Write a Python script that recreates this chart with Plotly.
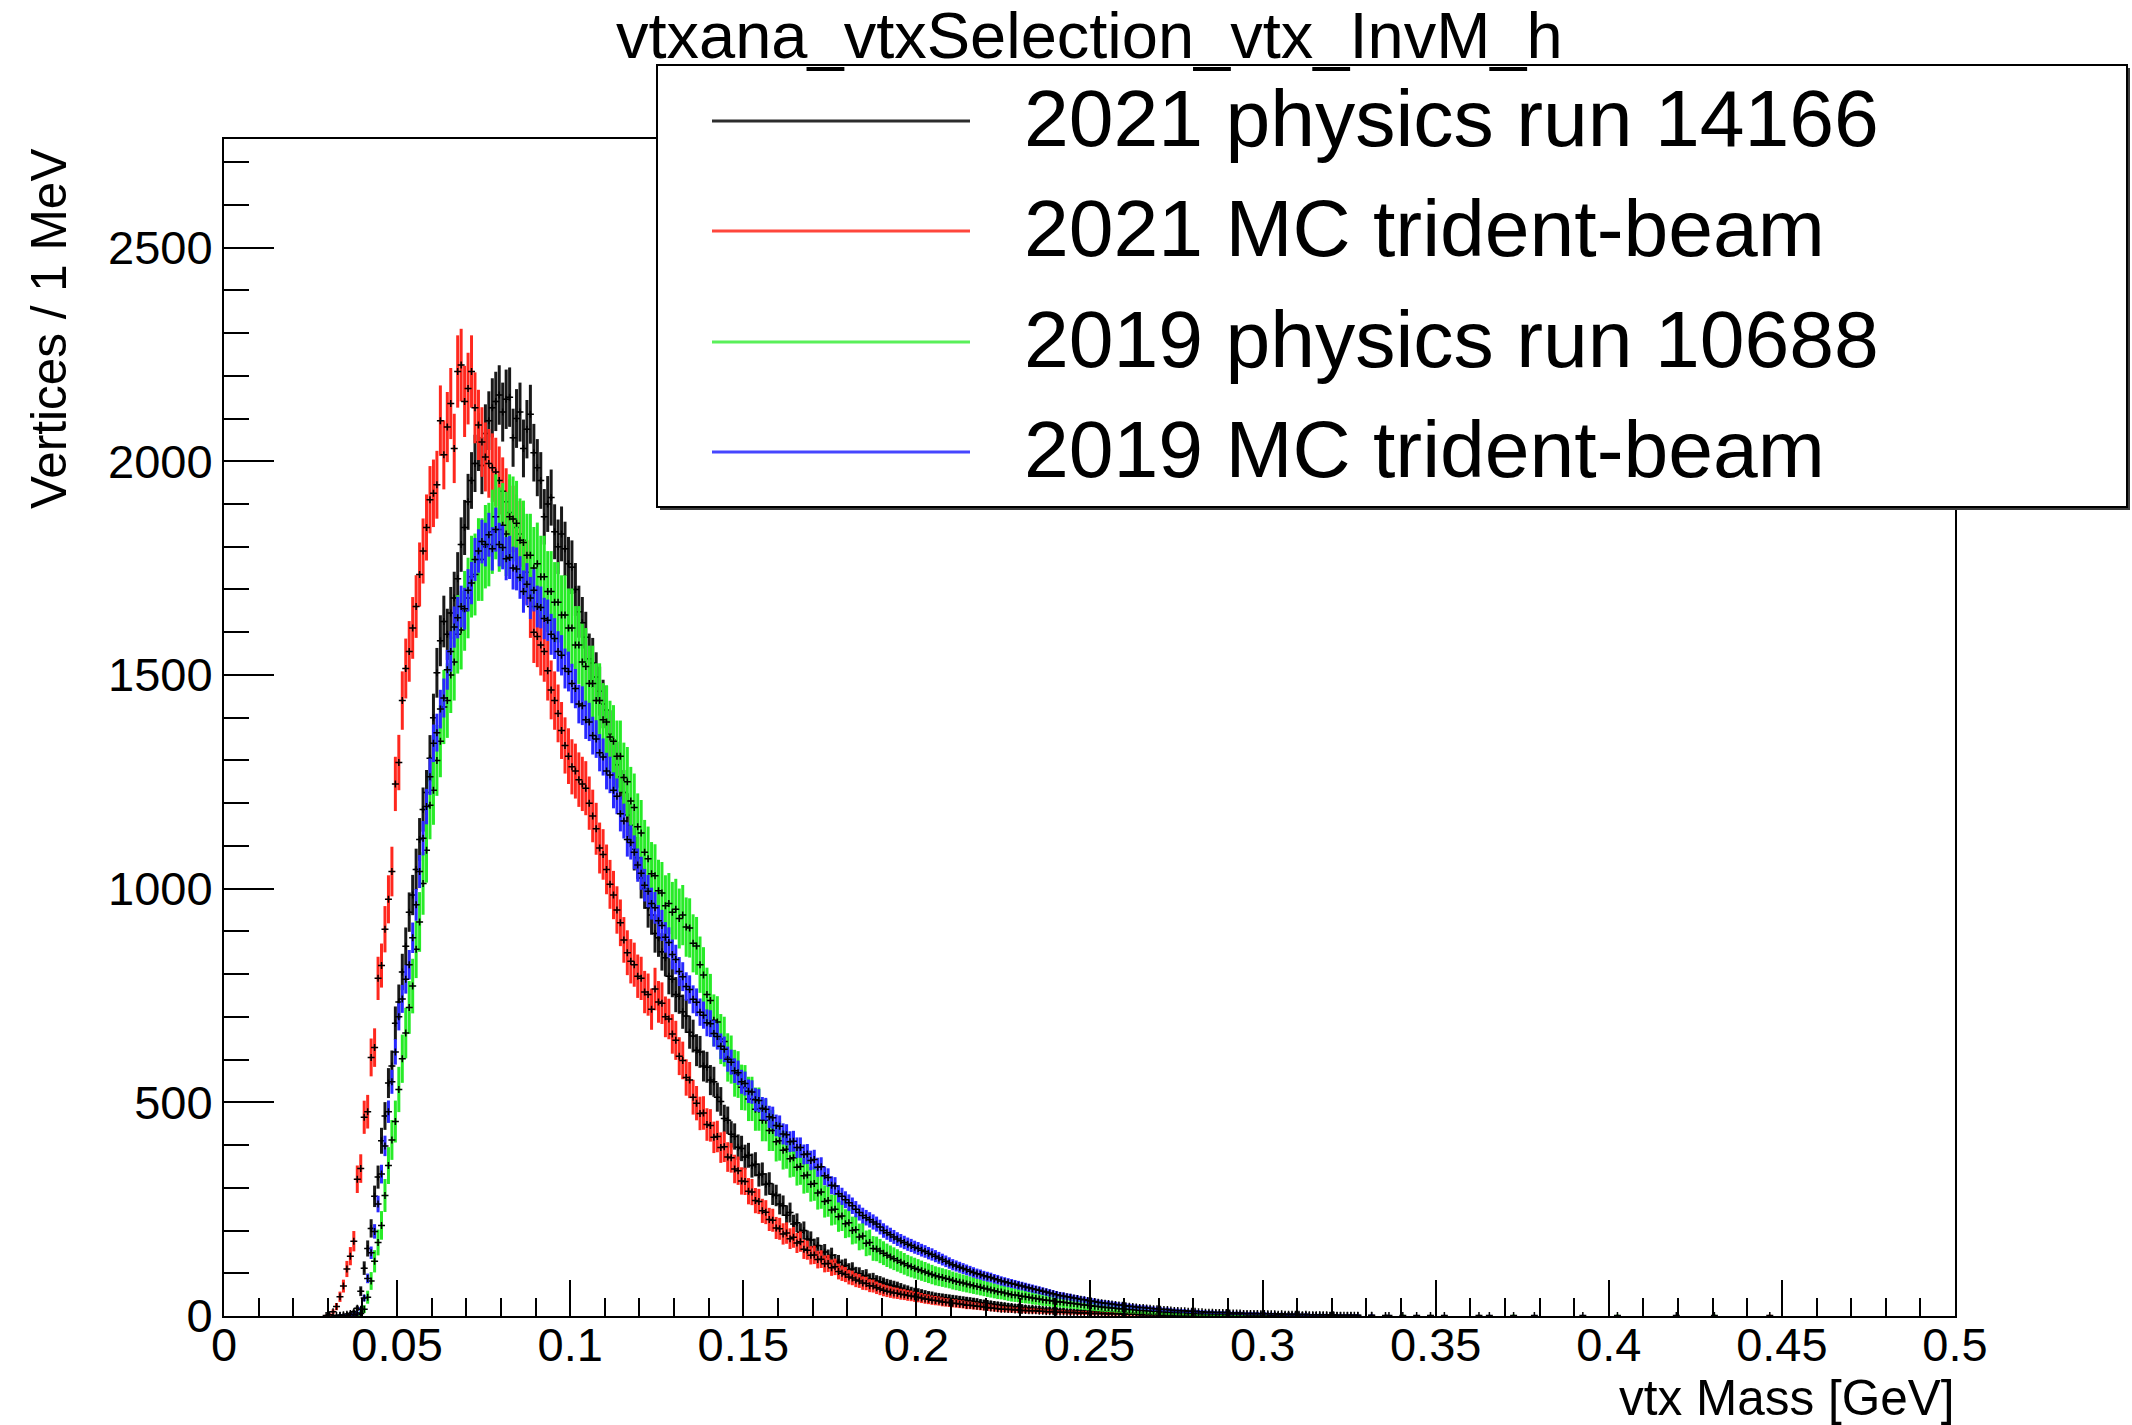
import math
import plotly.graph_objects as go

# ---------------------------------------------------------------------------
# Histogram contents: vertex invariant mass, 1 MeV bins on [0, 0.5] GeV.
# Each list starts at bin FIRST_BIN; bins outside the lists are empty except
# for the sparse far-tail entries listed separately.
# ---------------------------------------------------------------------------
BIN_WIDTH = 0.001
FIRST_BIN = 28

series_names = [
    "2021 physics run 14166",
    "2021 MC trident-beam",
    "2019 physics run 10688",
    "2019 MC trident-beam",
]

counts_data2021 = [
    0, 0, 0, 1, 1, 2, 3, 4, 6, 10,
    18, 58, 112, 158, 205, 280, 325, 410, 468, 545,
    585, 685, 735, 805, 865, 945, 985, 1045, 1115, 1185,
    1225, 1305, 1400, 1505, 1580, 1625, 1595, 1645, 1680, 1725,
    1805, 1845, 1905, 1955, 1995, 2045, 1990, 2065, 2095, 2125,
    2140, 2155, 2115, 2145, 2150, 2055, 2100, 2115, 2030, 2075,
    2110, 2020, 1985, 1955, 1870, 1900, 1915, 1835, 1800, 1830,
    1795, 1760, 1752, 1700, 1648, 1622, 1588, 1538, 1528, 1495,
    1462, 1432, 1418, 1362, 1348, 1290, 1262, 1225, 1172, 1148,
    1092, 1072, 1025, 1000, 955, 938, 895, 885, 852, 838,
    795, 788, 752, 748, 712, 702, 664, 655, 622, 618,
    585, 582, 552, 548, 512, 502, 462, 458, 425, 420,
    395, 392, 372, 376, 352, 355, 330, 332, 308, 310,
    285, 282, 262, 258, 236, 242, 215, 218, 196, 200,
    180, 178, 162, 165, 148, 150, 138, 142, 128, 126,
    116, 118, 108, 110, 100, 99, 93, 95, 86, 87,
    82, 80, 77, 74, 72, 70, 68, 65, 62, 60,
    57, 55, 54, 52, 50, 48, 47, 45, 44, 43,
    42, 41, 40, 39, 38, 37, 36, 35, 34, 33,
    31, 30, 29, 28, 27, 26, 25, 24, 23, 22,
    21, 21, 20, 19, 18, 18, 17, 17, 16, 15,
    15, 14, 14, 13, 13, 12, 12, 12, 11, 11,
    11, 10, 10, 10, 9, 9, 9, 8, 8, 8,
    8, 7, 7, 7, 6, 6, 6, 6, 5, 5,
    5, 5, 5, 4, 4, 4, 4, 4, 3, 3,
    3, 3, 3, 3, 2, 3, 2, 2, 2, 2,
    2, 2, 2, 1, 2, 1, 1, 2, 1, 1,
    1, 1, 1, 1, 0, 1, 1, 0, 1, 1,
    0, 1, 0, 0, 1, 0, 0, 1, 0, 0,
    0, 0, 1, 0, 0, 0, 0, 0, 0, 0,
]

counts_mc2021 = [
    0, 1, 3, 10, 22, 45, 70, 110, 140, 175,
    320, 345, 465, 478, 605, 628, 790, 820, 905, 975,
    1040, 1245, 1295, 1440, 1515, 1555, 1610, 1660, 1735, 1790,
    1845, 1910, 1925, 1945, 2095, 2015, 2080, 2135, 2030, 2210,
    2225, 2140, 2170, 2210, 2125, 2085, 2045, 2010, 1995, 1985,
    1975, 1955, 1930, 1905, 1880, 1865, 1845, 1830, 1815, 1740,
    1660, 1600, 1590, 1570, 1555, 1510, 1465, 1440, 1410, 1370,
    1335, 1310, 1285, 1275, 1255, 1245, 1235, 1200, 1170, 1140,
    1095, 1080, 1045, 1010, 985, 950, 920, 880, 850, 830,
    822, 795, 790, 758, 752, 718, 765, 735, 732, 700,
    695, 660, 645, 608, 598, 558, 552, 512, 498, 474,
    475, 448, 446, 418, 420, 394, 396, 372, 370, 344,
    340, 316, 315, 292, 290, 270, 268, 246, 243, 226,
    224, 206, 204, 192, 194, 181, 184, 171, 174, 156,
    154, 142, 143, 132, 133, 122, 123, 113, 115, 104,
    100, 97, 91, 89, 84, 82, 77, 76, 71, 70,
    66, 63, 60, 58, 56, 54, 53, 51, 50, 48,
    47, 45, 44, 42, 40, 39, 37, 36, 35, 33,
    32, 31, 30, 29, 28, 27, 25, 25, 24, 23,
    22, 21, 20, 19, 18, 17, 16, 16, 15, 15,
    14, 14, 13, 13, 12, 12, 12, 11, 11, 10,
    10, 10, 9, 9, 9, 8, 8, 8, 7, 7,
    7, 7, 6, 6, 6, 6, 5, 5, 5, 5,
    5, 4, 4, 4, 4, 4, 3, 3, 3, 3,
    3, 3, 3, 2, 2, 2, 2, 2, 2, 2,
    2, 2, 1, 2, 1, 1, 1, 2, 1, 1,
    1, 1, 1, 1, 0, 1, 1, 0, 1, 0,
    1, 0, 1, 0, 0, 1, 0, 0, 0, 1,
    0, 0, 0, 1, 0, 0, 0, 0, 0, 0,
    0, 0, 0, 0, 0, 0, 0, 0, 0, 0,
]

counts_data2019 = [
    0, 0, 0, 0, 0, 0, 0, 1, 1, 2,
    3, 6, 16, 44, 82, 128, 172, 212, 282, 352,
    412, 455, 530, 602, 662, 722, 772, 858, 922, 1012,
    1090, 1195, 1230, 1300, 1345, 1425, 1440, 1500, 1530, 1595,
    1605, 1650, 1680, 1730, 1735, 1770, 1770, 1800, 1805, 1835,
    1870, 1840, 1850, 1830, 1870, 1865, 1855, 1815, 1810, 1780,
    1780, 1750, 1760, 1730, 1730, 1695, 1695, 1670, 1670, 1640,
    1640, 1610, 1610, 1570, 1570, 1530, 1520, 1480, 1480, 1440,
    1440, 1395, 1390, 1355, 1345, 1310, 1310, 1260, 1250, 1205,
    1190, 1145, 1130, 1085, 1070, 1035, 1030, 995, 990, 960,
    965, 945, 952, 930, 938, 910, 908, 872, 866, 822,
    798, 752, 738, 692, 688, 648, 642, 605, 600, 568,
    565, 535, 534, 508, 508, 484, 484, 458, 458, 434,
    434, 408, 410, 388, 390, 368, 370, 348, 350, 328,
    330, 308, 310, 288, 290, 268, 270, 248, 250, 232,
    234, 216, 218, 200, 202, 185, 187, 170, 172, 158,
    157, 152, 147, 142, 138, 134, 130, 126, 122, 118,
    115, 112, 109, 106, 103, 100, 97, 94, 92, 90,
    88, 86, 83, 81, 79, 77, 75, 73, 71, 69,
    67, 65, 63, 61, 59, 57, 56, 54, 52, 50,
    49, 48, 46, 45, 44, 42, 41, 40, 38, 37,
    36, 35, 34, 33, 32, 31, 30, 29, 28, 27,
    26, 25, 24, 23, 22, 21, 20, 20, 19, 18,
    17, 17, 16, 15, 15, 14, 13, 13, 12, 12,
    11, 11, 10, 10, 9, 9, 9, 8, 8, 8,
    7, 7, 7, 6, 6, 6, 6, 5, 5, 5,
    5, 5, 4, 4, 4, 4, 4, 3, 3, 3,
    3, 3, 3, 3, 2, 3, 2, 2, 2, 2,
    2, 2, 2, 1, 2, 1, 1, 1, 2, 1,
    1, 1, 1, 1, 1, 0, 1, 1, 0, 1,
]

counts_mc2019 = [
    0, 0, 0, 0, 0, 1, 1, 2, 3, 4,
    7, 16, 42, 88, 148, 198, 262, 332, 398, 478,
    548, 618, 700, 742, 788, 822, 885, 962, 1040, 1118,
    1192, 1262, 1340, 1365, 1420, 1446, 1512, 1555, 1612, 1634,
    1660, 1655, 1698, 1715, 1770, 1790, 1812, 1805, 1828, 1795,
    1840, 1805, 1798, 1772, 1775, 1750, 1748, 1728, 1695, 1712,
    1680, 1698, 1660, 1658, 1632, 1628, 1595, 1585, 1555, 1546,
    1515, 1508, 1480, 1468, 1432, 1428, 1395, 1390, 1358, 1350,
    1318, 1308, 1275, 1266, 1230, 1216, 1175, 1158, 1115, 1108,
    1085, 1055, 1036, 1008, 994, 965, 955, 925, 914, 886,
    874, 846, 834, 806, 794, 771, 764, 741, 734, 711,
    704, 686, 684, 661, 654, 631, 624, 601, 594, 574,
    569, 548, 544, 526, 524, 506, 504, 486, 484, 466,
    464, 446, 444, 426, 424, 408, 409, 394, 394, 378,
    379, 364, 366, 348, 349, 328, 324, 306, 304, 286,
    280, 272, 265, 258, 250, 242, 235, 230, 225, 220,
    215, 208, 200, 195, 190, 185, 180, 176, 172, 168,
    165, 161, 158, 154, 151, 147, 144, 140, 136, 132,
    128, 124, 120, 117, 114, 111, 108, 105, 102, 99,
    97, 94, 92, 90, 87, 85, 82, 80, 78, 76,
    74, 72, 70, 68, 66, 64, 62, 60, 58, 56,
    54, 52, 50, 48, 47, 45, 44, 42, 41, 39,
    38, 36, 35, 34, 32, 31, 30, 29, 28, 27,
    26, 25, 24, 23, 22, 21, 20, 20, 19, 18,
    17, 17, 16, 15, 15, 14, 13, 13, 12, 12,
    11, 11, 11, 10, 10, 9, 9, 9, 8, 8,
    8, 8, 7, 7, 7, 7, 6, 6, 6, 6,
    6, 5, 6, 5, 5, 5, 4, 5, 4, 4,
    4, 4, 4, 3, 4, 3, 3, 3, 3, 3,
    3, 2, 3, 2, 2, 2, 2, 2, 2, 2,
]

# Sparse entries far out in the tail: (bin index, content)
tail_bins_data2021 = [335, 348, 362]
tail_counts_data2021 = [1, 1, 1]
tail_bins_mc2021 = [331, 446]
tail_counts_mc2021 = [1, 1]
tail_bins_data2019 = [340, 372, 402, 430]
tail_counts_data2019 = [1, 1, 1, 1]
tail_bins_mc2019 = [331, 336, 344, 352, 365, 378, 392, 419]
tail_counts_mc2019 = [2, 1, 1, 1, 1, 1, 1, 1]

# Statistical error per bin is scale * sqrt(content) (weighted entries)
error_scales = [1.5, 1.8, 2.3, 1.2]

series_colors = ["rgb(25,25,25)", "rgb(255,40,30)", "rgb(40,235,40)", "rgb(40,40,255)"]
legend_colors = ["rgb(45,45,45)", "rgb(255,70,60)", "rgb(90,240,90)", "rgb(70,70,255)"]

x_tick_values = [0, 0.05, 0.1, 0.15, 0.2, 0.25, 0.3, 0.35, 0.4, 0.45, 0.5]
x_tick_labels = ["0", "0.05", "0.1", "0.15", "0.2", "0.25", "0.3", "0.35", "0.4", "0.45", "0.5"]
y_tick_values = [0, 500, 1000, 1500, 2000, 2500]
y_tick_labels = ["0", "500", "1000", "1500", "2000", "2500"]

# ---------------------------------------------------------------------------
# Canvas geometry (pixels)
# ---------------------------------------------------------------------------
W, H = 2132, 1425
PLOT_L, PLOT_R = 224, 1955
PLOT_T, PLOT_B = 139, 1316
Y_MAX = 2754
FONT = "Liberation Sans, Arial, Helvetica, sans-serif"


def fx(px):
    return (px - PLOT_L) / (PLOT_R - PLOT_L)


def fy(py):
    return (PLOT_B - py) / (PLOT_B - PLOT_T)


fig = go.Figure()

all_counts = [counts_data2021, counts_mc2021, counts_data2019, counts_mc2019]
all_tail_bins = [tail_bins_data2021, tail_bins_mc2021, tail_bins_data2019, tail_bins_mc2019]
all_tail_counts = [tail_counts_data2021, tail_counts_mc2021, tail_counts_data2019, tail_counts_mc2019]

for name, counts, tbins, tcounts, scale, color in zip(
    series_names, all_counts, all_tail_bins, all_tail_counts, error_scales, series_colors
):
    bins = list(range(FIRST_BIN, FIRST_BIN + len(counts))) + tbins
    contents = list(counts) + tcounts
    xs, ys, errs = [], [], []
    for b, c in zip(bins, contents):
        if c <= 0:
            continue
        xs.append((b + 0.5) * BIN_WIDTH)
        ys.append(c)
        errs.append(scale * math.sqrt(c))
    fig.add_trace(
        go.Scatter(
            x=xs,
            y=ys,
            mode="markers",
            name=name,
            showlegend=False,
            marker=dict(symbol="cross-thin", size=5, color="black",
                        line=dict(width=1.5, color="black")),
            error_y=dict(type="data", array=errs, visible=True,
                         color=color, thickness=3, width=0),
            error_x=dict(type="constant", value=BIN_WIDTH / 2, visible=True,
                         color=color, thickness=1.5, width=0),
            cliponaxis=True,
        )
    )

axis_common = dict(
    showline=True,
    linecolor="black",
    linewidth=2,
    mirror=True,
    showgrid=False,
    zeroline=False,
    ticks="inside",
    tickcolor="black",
    tickwidth=2,
    tickfont=dict(family=FONT, size=47, color="black"),
)

fig.update_xaxes(
    range=[0, 0.5],
    tickvals=x_tick_values,
    ticktext=x_tick_labels,
    ticklen=36,
    ticklabelstandoff=-13,
    minor=dict(ticks="inside", ticklen=18, tickwidth=2, tickcolor="black",
               dtick=0.01, tick0=0),
    **axis_common,
)
fig.update_yaxes(
    range=[0, Y_MAX],
    tickvals=y_tick_values,
    ticktext=y_tick_labels,
    ticklen=50,
    ticklabelstandoff=0,
    minor=dict(ticks="inside", ticklen=25, tickwidth=2, tickcolor="black",
               dtick=100, tick0=0),
    **axis_common,
)

# Legend box drawn by hand with long line samples
LEG_L, LEG_R, LEG_T, LEG_B = 657, 2127, 65, 507
shapes = [
    dict(type="rect", xref="paper", yref="paper",
         x0=fx(LEG_L + 3), x1=fx(LEG_R + 3), y0=fy(LEG_B + 3), y1=fy(LEG_T + 3),
         fillcolor="rgb(60,60,60)", line=dict(width=0), layer="above"),
    dict(type="rect", xref="paper", yref="paper",
         x0=fx(LEG_L), x1=fx(LEG_R), y0=fy(LEG_B), y1=fy(LEG_T),
         fillcolor="white", line=dict(color="black", width=2), layer="above"),
]
annotations = []
row_y = [121, 231, 342, 452]
for name, color, ry in zip(series_names, legend_colors, row_y):
    shapes.append(dict(type="line", xref="paper", yref="paper",
                       x0=fx(712), x1=fx(970), y0=fy(ry), y1=fy(ry),
                       line=dict(color=color, width=3), layer="above"))
    annotations.append(dict(xref="paper", yref="paper", x=fx(1022), y=fy(ry - 3),
                            xanchor="left", yanchor="middle", showarrow=False,
                            text=name, font=dict(family=FONT, size=80.5, color="black")))

# Histogram title
annotations.append(dict(xref="paper", yref="paper", x=fx(1089), y=fy(36),
                        xanchor="center", yanchor="middle", showarrow=False,
                        text="vtxana_vtxSelection_vtx_InvM_h",
                        font=dict(family=FONT, size=65, color="black")))
# Axis titles (ROOT style: aligned to the axis end)
annotations.append(dict(xref="paper", yref="paper", x=fx(1957), y=fy(1397),
                        xanchor="right", yanchor="middle", showarrow=False,
                        text="vtx Mass [GeV]",
                        font=dict(family=FONT, size=49.5, color="black")))
annotations.append(dict(xref="paper", yref="paper", x=fx(48), y=fy(147),
                        xanchor="center", yanchor="top", showarrow=False,
                        textangle=-90, text="Vertices / 1 MeV",
                        font=dict(family=FONT, size=49.5, color="black")))

fig.update_layout(
    width=W,
    height=H,
    margin=dict(l=PLOT_L, r=W - PLOT_R, t=PLOT_T, b=H - PLOT_B, autoexpand=False),
    paper_bgcolor="white",
    plot_bgcolor="white",
    showlegend=False,
    shapes=shapes,
    annotations=annotations,
)

fig.write_html("out.html", include_plotlyjs=True, full_html=True,
               config={"displayModeBar": False})
